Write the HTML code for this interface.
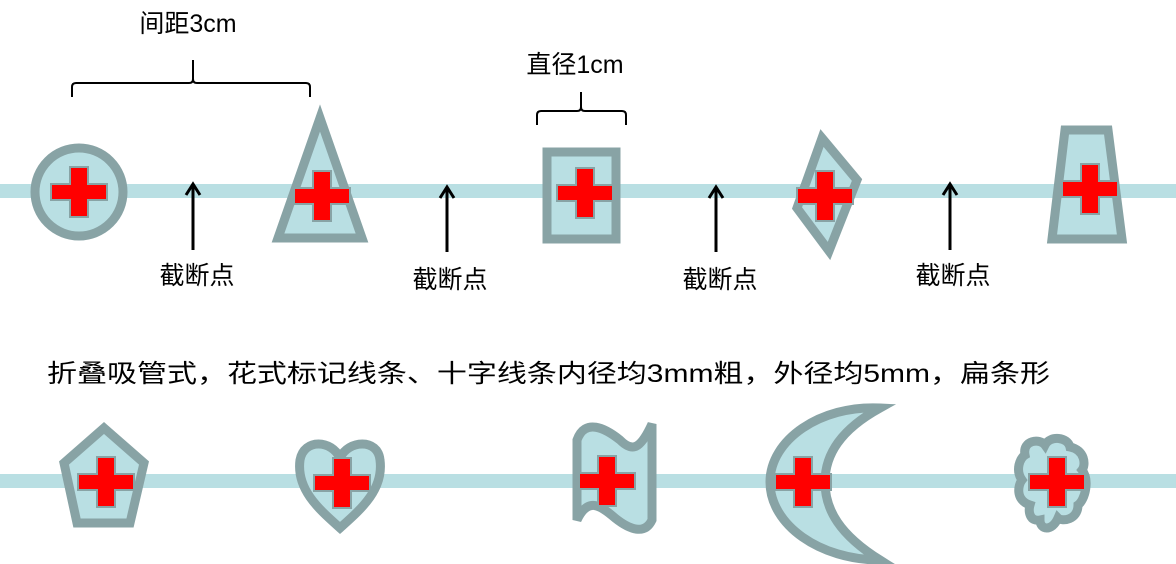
<!DOCTYPE html>
<html><head><meta charset="utf-8"><style>
body{margin:0;background:#fff;width:1176px;height:564px;overflow:hidden}
svg{display:block}
text{font-family:"Liberation Sans","Noto Sans CJK SC",sans-serif;font-size:25px;fill:#000}
</style></head><body>
<svg width="1176" height="564" viewBox="0 0 1176 564">
<defs>
<g id="cr"><path d="M-9,-25H9V-8H28V8H9V25H-9V8H-28V-8H-9Z" fill="#ff0000" stroke="#88a3a5" stroke-width="2"/></g>
</defs>
<rect x="0" y="184" width="1176" height="14" fill="#b9dfe3"/>
<rect x="0" y="474" width="1176" height="14" fill="#b9dfe3"/>
<g fill="#b9dfe3" stroke="#88a3a5" stroke-width="9" stroke-linejoin="miter">
<circle cx="79" cy="192" r="44"/>
<polygon points="320,118 278,238 362,238"/>
<rect x="547" y="152" width="69" height="87"/>
<polygon points="822,138 857,180 829,251 797,208"/>
<polygon points="1065,130 1108,130 1122,239 1052,239"/>
<polygon points="104,428 144,463 130,523 77,523 64,463"/>
<path d="M340,528 C320,510 296,490 300,460 C304,438 332,440 340,458 C348,440 378,438 380,460 C384,490 360,510 340,528Z"/>
<path d="M577,440 C585,418 605,428 620,440 C632,452 640,450 652,424 L652,520 C645,535 630,530 615,518 C600,505 588,497 577,520Z"/>
<path d="M880,408 C820,405 770,440 770,482 C770,525 820,560 880,560 C840,535 825,510 825,482 C825,455 840,430 880,408Z"/>
<path d="M1025,455 C1022,440 1040,438 1045,445 C1050,435 1068,437 1070,447 C1085,450 1086,465 1082,470 C1090,480 1085,500 1078,505 C1078,520 1062,522 1058,518 C1052,532 1040,530 1040,520 C1030,522 1028,512 1030,505 C1015,500 1018,485 1022,480 C1015,470 1020,458 1025,455Z"/>
</g>
<use href="#cr" x="79" y="192"/>
<use href="#cr" x="322" y="196"/>
<use href="#cr" x="585" y="193"/>
<use href="#cr" x="825" y="196"/>
<use href="#cr" x="1090" y="189"/>
<use href="#cr" x="106" y="482"/>
<use href="#cr" x="342" y="483"/>
<use href="#cr" x="607" y="481"/>
<use href="#cr" x="803" y="482"/>
<use href="#cr" x="1057" y="482"/>
<g stroke="#000" stroke-width="3" fill="none">
<path d="M193,250V185M186,195L193,184L200,195"/>
<path d="M447,252V188M440,198L447,187L454,198"/>
<path d="M716,252V188M709,198L716,187L723,198"/>
<path d="M950,250V185M943,195L950,184L957,195"/>
</g>
<g stroke="#000" stroke-width="2" fill="none">
<path d="M72,97V87Q72,83 76,83H189Q193,83 193,79V60M193,79Q193,83 197,83H306Q310,83 310,87V97"/>
<path d="M537,125V115Q537,111 541,111H577Q581,111 581,107V92M581,107Q581,111 585,111H622Q626,111 626,115V125"/>
</g>
<text x="188" y="32" text-anchor="middle">间距3cm</text>
<text x="575" y="73" text-anchor="middle">直径1cm</text>
<text x="197" y="284" text-anchor="middle">截断点</text>
<text x="450" y="288" text-anchor="middle">截断点</text>
<text x="720" y="288" text-anchor="middle">截断点</text>
<text x="953" y="284" text-anchor="middle">截断点</text>
<text x="47" y="382" textLength="1003" lengthAdjust="spacingAndGlyphs">折叠吸管式，花式标记线条、十字线条内径均3mm粗，外径均5mm，扁条形</text>
</svg>
</body></html>
